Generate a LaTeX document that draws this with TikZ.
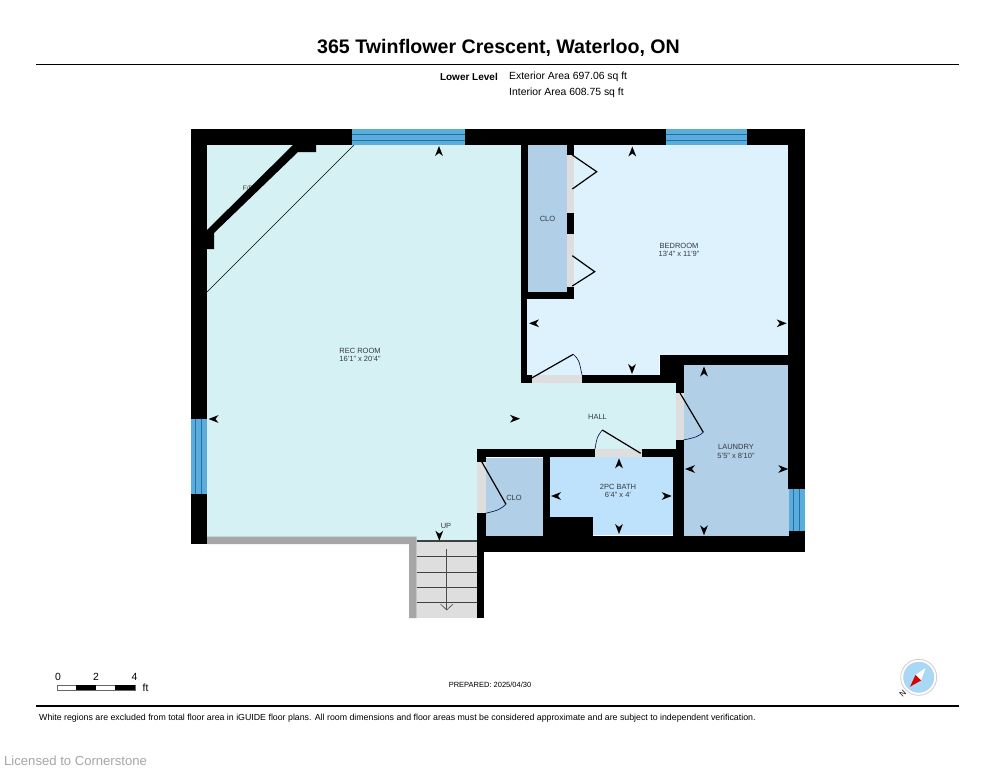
\documentclass[tikz,border=0pt]{standalone}
\usepackage{fontspec}
\setmainfont{Liberation Sans}
\definecolor{recfill}{HTML}{D6F1F4}
\definecolor{bedfill}{HTML}{DDF2FD}
\definecolor{clofill}{HTML}{B1CFE6}
\definecolor{bathfill}{HTML}{BEE2FB}
\definecolor{winfill}{HTML}{5AACDB}
\definecolor{winline}{HTML}{1F6FA8}
\definecolor{doorgrey}{HTML}{DEDEDE}
\definecolor{railgrey}{HTML}{A6A6A6}
\definecolor{txt}{HTML}{333A40}
\definecolor{compassblue}{HTML}{A9D8F5}
\definecolor{compassring}{HTML}{DCCFCB}
\tikzset{
  wall/.style={fill=black,draw=none},
  doorgap/.style={fill=doorgrey,draw=none},
  room/.style={draw=none},
  window/.style={fill=winfill,draw=none},
  winbar/.style={draw=winline,line width=0.9pt},
  leaf/.style={draw=black,line width=1.2pt},
  swing/.style={draw=black!70!blue,line width=0.6pt},
  roomlabel/.style={font=\fontsize{7.5}{8.6}\selectfont,text=txt,align=center,inner sep=0pt},
  infotext/.style={font=\fontsize{10.4}{11}\selectfont,text=black,inner sep=0pt},
  rulebar/.style={draw=black,line width=1.7pt},
  stepline/.style={draw=black!75,line width=1.1pt}
}
\newcommand{\mk}[3]{\fill[black,shift={(#1,#2)},rotate=#3] (0,0) -- (-10,3.9) -- (-7,0) -- (-10,-3.9) -- cycle;}
\begin{document}
\begin{tikzpicture}[x=1pt,y=-1pt]
\useasboundingbox (0,0) rectangle (995,768);
\fill[white] (0,0) rectangle (995,768);
% header
\node[font=\bfseries\fontsize{19.6}{22}\selectfont,inner sep=0pt] (title) at (498.5,47.5) {365 Twinflower Crescent, Waterloo, ON};
\coordinate (r1a) at (36,64.5); \coordinate (r1b) at (959,64.5);
\draw[rulebar] (r1a) -- (r1b);
\node[infotext,font=\bfseries\fontsize{10}{11}\selectfont,anchor=east] (level) at (498,77) {Lower Level};
\node[infotext,anchor=west] (ext) at (509,77) {Exterior Area 697.06 sq ft};
\node[infotext,anchor=west] (int) at (509,93) {Interior Area 608.75 sq ft};
% room fills
\fill[recfill,room] (207,145) -- (522,145) -- (522,383) -- (676,383) -- (676,450) -- (478,450) -- (478,541) -- (416.5,541) -- (416.5,537) -- (207,537) -- cycle;
\fill[bedfill,room] (567,145) -- (788,145) -- (788,355) -- (659,355) -- (659,376) -- (527,376) -- (527,298) -- (567,298) -- cycle;
\fill[clofill,room] (528,145) rectangle (567,292);
\fill[clofill,room] (684,365) rectangle (789,536);
\fill[clofill,room] (485,458) rectangle (543,537);
\fill[bathfill,room] (549,456) rectangle (673,535);
\node[roomlabel,font=\fontsize{6.5}{8}\selectfont] (fp) at (248,188) {F/P};
% thin line
\coordinate (t1) at (354,145); \coordinate (t2) at (207,292);
\draw[black,line width=0.6pt] (t1) -- (t2);
% stairs
\fill[doorgrey] (416.5,541) rectangle (477.5,618);
\foreach \yy in {541,556.7,572.3,587.7,602.7} \draw[stepline] (416.5,\yy) -- (477.5,\yy);
\fill[railgrey] (207,536.5) -- (416.5,536.5) -- (416.5,618) -- (409,618) -- (409,544) -- (207,544) -- cycle;
\draw[black!70,line width=0.6pt] (446.7,549) -- (446.7,610);
\draw[black!70,line width=0.6pt] (440.5,604) -- (446.7,610) -- (453,604);
% walls
\fill[wall] (191,128.7) rectangle (351.5,145);
\fill[wall] (465,128.7) rectangle (666,145);
\fill[wall] (747,128.7) rectangle (804.7,145);
\fill[wall] (191,128.7) rectangle (207,419);
\fill[wall] (191,494) rectangle (207,544);
\fill[wall] (788,128.7) rectangle (804.7,488.5);
\fill[wall] (789,530.5) rectangle (804.7,552);
\fill[wall] (293,145) -- (316,145) -- (316,152) -- (298,152) -- (214,233) -- (214,249) -- (207,249) -- (207,230) -- cycle;
\fill[wall] (521,145) rectangle (528,299);
\fill[wall] (521,292) rectangle (574,299);
\fill[wall] (567,145) rectangle (574,155);
\fill[wall] (567,212.7) rectangle (574,234.3);
\fill[wall] (567,286.7) rectangle (574,299);
\fill[wall] (521,299) rectangle (527.3,383);
\fill[wall] (521,375) rectangle (532,383);
\fill[wall] (582,374.5) rectangle (660,382.5);
\fill[wall] (659.5,355) rectangle (683.5,382.5);
\fill[wall] (659.5,355) rectangle (790,365);
\fill[wall] (675.7,382) rectangle (684,392.5);
\fill[wall] (675.7,440) rectangle (684,552);
\fill[wall] (672.5,449) rectangle (684,552);
\fill[wall] (477.3,449.3) rectangle (595,456.7);
\fill[wall] (641.5,449.3) rectangle (676,456.7);
\fill[wall] (477.3,449.3) rectangle (485.7,461.7);
\fill[wall] (477.3,513.3) rectangle (485.7,552);
\fill[wall] (542.5,456) rectangle (549.7,537);
\fill[wall] (549,516.7) rectangle (593.3,537);
\fill[wall] (477.3,535.5) rectangle (804.7,551.7);
\fill[wall] (477.3,551) rectangle (484,618);
% door openings
\fill[doorgap] (567,155) rectangle (574,212.7);
\fill[doorgap] (567,234.3) rectangle (574,286.7);
\fill[doorgap] (532,375) rectangle (582,382.7);
\fill[doorgap] (675.7,392.5) rectangle (683.5,440);
\fill[doorgap] (595,449.3) rectangle (641.5,456.7);
\fill[doorgap] (477.3,461.7) rectangle (485.7,513.3);
% windows
\fill[window] (351.5,128.7) rectangle (465,145);
\draw[winbar] (351.5,134.7) -- (465,134.7) (351.5,140) -- (465,140);
\fill[window] (666,128.7) rectangle (747,145);
\draw[winbar] (666,134.7) -- (747,134.7) (666,140) -- (747,140);
\fill[window] (191,419) rectangle (207,494);
\draw[winbar] (195.7,419) -- (195.7,494) (201.3,419) -- (201.3,494);
\fill[window] (789,488.5) rectangle (804.7,530.5);
\draw[winbar] (793.7,488.5) -- (793.7,530.5) (799,488.5) -- (799,530.5);
% door leaves
\draw[leaf] (572.3,155) -- (596.7,171.7) -- (572.3,189);
\draw[leaf] (572.3,255.7) -- (594.7,271.7) -- (572.3,286);
\draw[leaf] (531.7,378) -- (573.3,354.3);
\draw[swing] (573.3,354.3) .. controls (579,360) .. (582,375);
\draw[leaf] (680,393) -- (703.3,432.3);
\draw[swing] (703.3,432.3) .. controls (697,437) .. (683.5,440);
\draw[leaf] (640.7,453.3) -- (602.3,430);
\draw[swing] (602.3,430) .. controls (597,437) .. (595,449);
\draw[leaf] (481.7,461.7) -- (506,504.3);
\draw[swing] (506,504.3) .. controls (499,510) .. (485.7,513.3);
% direction markers
\mk{439}{146}{90}
\mk{208.5}{419}{180}
\mk{632.3}{146.5}{90}
\mk{529}{323.3}{180}
\mk{786.7}{323.3}{0}
\mk{632}{374}{270}
\mk{704}{366.5}{90}
\mk{685}{469}{180}
\mk{788.3}{469}{0}
\mk{704}{535.3}{270}
\mk{520}{418.7}{0}
\mk{619}{458.3}{90}
\mk{551}{496}{180}
\mk{671.7}{496}{0}
\mk{619}{534}{270}
\mk{439.3}{540.7}{270}
% room labels
\node[roomlabel] (lbed) at (679,250) {BEDROOM\\13'4" x 11'9"};
\node[roomlabel] (lclo1) at (547.5,219) {CLO};
\node[roomlabel] (lrec) at (360,355) {REC ROOM\\16'1" x 20'4"};
\node[roomlabel] (lhall) at (597.5,416.5) {HALL};
\node[roomlabel] (llau) at (736,451.5) {LAUNDRY\\5'5" x 8'10"};
\node[roomlabel] (lbath) at (618,491) {2PC BATH\\6'4" x 4'};
\node[roomlabel] (lclo2) at (514,497.5) {CLO};
\node[roomlabel] (lup) at (446,526) {UP};
% scale bar
\draw[black!60,fill=white,line width=0.4pt] (56.7,685) rectangle (135,690.3);
\fill[black] (75.5,685) rectangle (96,690.3);
\fill[black] (115,685) rectangle (135,690.3);
\node[infotext] (s0) at (58,677) {0};
\node[infotext] (s2) at (96,677) {2};
\node[infotext] (s4) at (134.5,677) {4};
\node[infotext] (sft) at (145.5,688) {ft};
% footer
\node[infotext,font=\fontsize{8.6}{10}\selectfont,font=\fontsize{7.5}{9}\selectfont] (prep) at (490,685) {PREPARED: 2025/04/30};
\coordinate (r2a) at (36,705.7); \coordinate (r2b) at (959,705.7);
\draw[rulebar] (r2a) -- (r2b);
\node[infotext,font=\fontsize{8.8}{10}\selectfont,anchor=west] (note) at (39,718) {White regions are excluded from total floor area in iGUIDE floor plans. All room dimensions and floor areas must be considered approximate and are subject to independent verification.};
\node[infotext,font=\fontsize{13.1}{15}\selectfont,text=black!35,anchor=west] (lic) at (4,761) {Licensed to Cornerstone};
% compass
\draw[fill=white,draw=compassring,line width=0.9pt] (918.7,677.3) circle (18);
\fill[compassblue] (918.7,677.3) circle (15.5);
\fill[white] (925.5,668) -- (915.5,675) -- (921,680.5) -- cycle;
\fill[red!85!black] (910,686.7) -- (915.5,675) -- (921,680.5) -- cycle;
\node[infotext,font=\fontsize{8}{9}\selectfont,rotate=45] (north) at (902.7,693.3) {N};
\end{tikzpicture}
\end{document}
